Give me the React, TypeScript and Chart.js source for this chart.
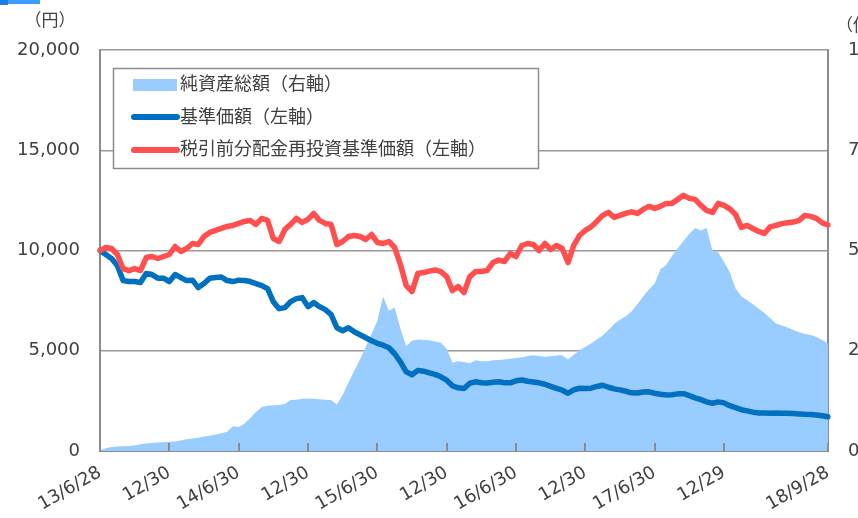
import React, { useEffect, useRef } from "react";
import { Chart, registerables } from "chart.js";
Chart.register(...registerables);

const categories = [
  "13/6/28", "13/7/12", "13/7/31", "13/8/15", "13/8/30", "13/9/13", "13/9/30", "13/10/15", "13/10/31", "13/11/15", "13/11/29", "13/12/13", "13/12/30",
  "14/1/15", "14/1/31", "14/2/14", "14/2/28", "14/3/14", "14/3/31", "14/4/15", "14/4/30", "14/5/15", "14/5/30", "14/6/13", "14/6/30",
  "14/7/15", "14/7/31", "14/8/15", "14/8/29", "14/9/12", "14/9/30", "14/10/15", "14/10/31", "14/11/14", "14/11/28", "14/12/15", "14/12/30",
  "15/1/15", "15/1/30", "15/2/13", "15/2/27", "15/3/13", "15/3/31", "15/4/15", "15/4/30", "15/5/15", "15/5/29", "15/6/15", "15/6/30",
  "15/7/15", "15/7/31", "15/8/14", "15/8/31", "15/9/15", "15/9/30", "15/10/15", "15/10/30", "15/11/13", "15/11/30", "15/12/15", "15/12/30",
  "16/1/15", "16/1/29", "16/2/15", "16/2/29", "16/3/15", "16/3/31", "16/4/15", "16/4/28", "16/5/13", "16/5/31", "16/6/15", "16/6/30",
  "16/7/15", "16/7/29", "16/8/15", "16/8/31", "16/9/15", "16/9/30", "16/10/14", "16/10/31", "16/11/15", "16/11/30", "16/12/15", "16/12/30",
  "17/1/13", "17/1/31", "17/2/15", "17/2/28", "17/3/15", "17/3/31", "17/4/14", "17/4/28", "17/5/15", "17/5/31", "17/6/15", "17/6/30",
  "17/7/14", "17/7/31", "17/8/15", "17/8/31", "17/9/15", "17/9/29", "17/10/13", "17/10/31", "17/11/15", "17/11/30", "17/12/15", "17/12/29",
  "18/1/15", "18/1/31", "18/2/15", "18/2/28", "18/3/15", "18/3/30", "18/4/13", "18/4/27", "18/5/15", "18/5/31", "18/6/15", "18/6/29",
  "18/7/13", "18/7/31", "18/8/15", "18/8/31", "18/9/14", "18/9/28",
];

const tickDates = ["13/6/28", "13/12/30", "14/6/30", "14/12/30", "15/6/30", "15/12/30", "16/6/30", "16/12/30", "17/6/30", "17/12/29", "18/9/28"];
const tickTexts = ["13/6/28", "12/30", "14/6/30", "12/30", "15/6/30", "12/30", "16/6/30", "12/30", "17/6/30", "12/29", "18/9/28"];

// 純資産総額（億円, 右軸）
const netAssets = [
  2, 7, 10, 11, 12, 12.5, 14, 17, 19, 20,
  21, 22, 23, 24, 26, 29, 31, 33, 36, 38,
  41, 44, 48, 62, 60, 68, 82, 97, 110, 113,
  114, 115, 117, 127, 128, 130, 131, 130, 129, 128,
  127, 116, 140, 170, 200, 228, 260, 292, 325, 385,
  350, 358, 305, 262, 275, 278, 277, 276, 273, 270,
  255, 220, 224, 222, 219, 226, 224, 224, 226, 227,
  228, 230, 232, 234, 237, 239, 237, 235, 236, 238,
  239, 228, 240, 251, 260, 268, 278, 288, 302, 317,
  327, 336, 348, 366, 385, 403, 418, 453, 464, 486,
  505, 524, 542, 556, 550, 556, 500, 495, 472, 446,
  405, 386, 376, 366, 355, 344, 331, 318, 313, 308,
  302, 296, 292, 289, 284, 277, 268,
];

// 基準価額（円, 左軸）
const navValues = [
  10000, 9800, 9600, 9250, 8500, 8450, 8450, 8400, 8850, 8800,
  8620, 8620, 8450, 8800, 8650, 8500, 8520, 8150, 8350, 8620,
  8650, 8680, 8500, 8450, 8520, 8500, 8450, 8350, 8250, 8100,
  7450, 7100, 7150, 7450, 7600, 7650, 7200, 7400, 7200, 7050,
  6800, 6150, 6000, 6150, 5950, 5800, 5650, 5500, 5370, 5280,
  5150, 4850, 4450, 3950, 3800, 4020, 3980, 3900, 3820, 3700,
  3530, 3250, 3150, 3120, 3380, 3450, 3400, 3390, 3430, 3450,
  3400, 3400, 3500, 3540, 3480, 3440, 3400, 3330, 3220, 3120,
  3030, 2880, 3050, 3130, 3120, 3130, 3220, 3280, 3180, 3100,
  3050, 2980, 2900, 2890, 2940, 2950, 2880, 2830, 2790, 2810,
  2850, 2860, 2760, 2650, 2560, 2450, 2380, 2450, 2400, 2260,
  2160, 2060, 2000, 1940, 1900, 1890, 1880, 1890, 1880, 1880,
  1870, 1850, 1830, 1820, 1800, 1760, 1710,
];

// 税引前分配金再投資基準価額（円, 左軸）
const reinvestedNav = [
  10000, 10150, 10100, 9800, 9100, 9000, 9100, 9000, 9650, 9700,
  9600, 9700, 9800, 10200, 9950, 10100, 10350, 10300, 10700, 10900,
  11000, 11100, 11200, 11250, 11350, 11450, 11500, 11300, 11600, 11500,
  10600, 10450, 11050, 11300, 11600, 11400, 11550, 11850, 11500, 11350,
  11300, 10300, 10450, 10700, 10750, 10700, 10550, 10800, 10400, 10350,
  10450, 10150, 9300, 8250, 7950, 8850, 8900, 8970, 9030, 8950,
  8700, 8000, 8200, 7900, 8700, 8950, 8950, 9000, 9400, 9520,
  9450, 9850, 9700, 10250, 10350, 10300, 10000, 10350, 10050, 10250,
  10100, 9400, 10250, 10750, 11000, 11180, 11450, 11750, 11900, 11650,
  11750, 11850, 11930, 11850, 12050, 12200, 12100, 12200, 12350, 12350,
  12550, 12750, 12600, 12550, 12250, 12000, 11900, 12350, 12250, 12080,
  11800, 11150, 11250, 11100, 10950, 10850, 11180, 11250, 11340, 11380,
  11420, 11500, 11750, 11700, 11600, 11380, 11270,
];

const seriesLabels = ["純資産総額（右軸）", "基準価額（左軸）", "税引前分配金再投資基準価額（左軸）"];
const leftUnit = "（円）";
const rightUnit = "（億円）";

const FONT = "'DejaVu Sans', 'Noto Sans CJK JP', sans-serif";
const CJK = "'Noto Sans CJK JP', sans-serif";
const TEXT = "#404040";
const GRID = "#999999";
const AREA = "#99CCFF";
const BLUE = "#0070C0";
const RED = "#FF4F4F";
const W = 920;
const H = 518;

const overlayPlugin = {
  id: "overlay",
  afterDatasetsDraw(chart: any) {
    const { ctx, chartArea, scales } = chart;
    const xs = scales.x;
    ctx.save();
    ctx.strokeStyle = "#8c8c8c";
    ctx.lineWidth = 2;
    xs.ticks.forEach((_t: any, i: number) => {
      const px = Math.round(xs.getPixelForTick(i));
      ctx.beginPath();
      ctx.moveTo(px, chartArea.bottom);
      ctx.lineTo(px, chartArea.bottom - 8);
      ctx.stroke();
    });
    ctx.restore();
  },
  afterDraw(chart: any) {
    const { ctx } = chart;
    ctx.save();
    // unit labels
    ctx.fillStyle = TEXT;
    ctx.font = `17px ${CJK}`;
    ctx.textBaseline = "middle";
    ctx.textAlign = "center";
    ctx.fillText(leftUnit, 50, 20);
    ctx.textAlign = "left";
    ctx.fillText(rightUnit, 836, 25);
    // top-left fragment
    ctx.fillStyle = "#3d9bff";
    ctx.fillRect(0, 0, 40, 4);
    ctx.fillStyle = "#1f7fe6";
    ctx.fillRect(0, 0, 8, 5);

    // legend
    const bx = 113.5, by = 68.5, bw = 425, bh = 100;
    ctx.fillStyle = "#ffffff";
    ctx.fillRect(bx, by, bw, bh);
    ctx.strokeStyle = "#8c8c8c";
    ctx.lineWidth = 1.5;
    ctx.strokeRect(bx, by, bw, bh);
    const ds = chart.data.datasets;
    const rows = [85, 118, 150];
    ctx.fillStyle = ds[0].backgroundColor;
    ctx.fillRect(133, 79, 44, 12);
    ctx.lineCap = "round";
    ctx.lineWidth = 6;
    ctx.strokeStyle = ds[1].borderColor;
    ctx.beginPath();
    ctx.moveTo(134, rows[1] - 1);
    ctx.lineTo(177, rows[1] - 1);
    ctx.stroke();
    ctx.strokeStyle = ds[2].borderColor;
    ctx.beginPath();
    ctx.moveTo(134, rows[2]);
    ctx.lineTo(177, rows[2]);
    ctx.stroke();
    ctx.fillStyle = TEXT;
    ctx.font = `18px ${FONT}`;
    ctx.textAlign = "left";
    ctx.textBaseline = "middle";
    ds.forEach((d: any, i: number) => ctx.fillText(d.label, 180, rows[i]));
    ctx.restore();
  },
};

export default function App() {
  const ref = useRef<HTMLCanvasElement | null>(null);
  useEffect(() => {
    if (!ref.current) return;
    const chart = new Chart(ref.current, {
      type: "line",
      data: {
        labels: categories,
        datasets: [
          {
            label: seriesLabels[0],
            data: netAssets,
            yAxisID: "y1",
            fill: "origin",
            backgroundColor: AREA,
            borderWidth: 0,
            borderColor: AREA,
            pointRadius: 0,
            order: 3,
          },
          {
            label: seriesLabels[1],
            data: navValues,
            yAxisID: "y",
            borderColor: BLUE,
            borderWidth: 5.5,
            pointRadius: 0,
            fill: false,
            borderCapStyle: "round",
            borderJoinStyle: "round",
            order: 2,
          },
          {
            label: seriesLabels[2],
            data: reinvestedNav,
            yAxisID: "y",
            borderColor: RED,
            borderWidth: 5.5,
            pointRadius: 0,
            fill: false,
            borderCapStyle: "round",
            borderJoinStyle: "round",
            order: 1,
          },
        ],
      },
      options: {
        responsive: false,
        animation: false,
        events: [],
        layout: { padding: { top: 50, left: 0, right: 0, bottom: 0 } },
        plugins: { legend: { display: false }, tooltip: { enabled: false }, title: { display: false } },
        scales: {
          x: {
            type: "category",
            offset: false,
            grid: { display: false, drawTicks: false },
            border: { display: true, color: "#8c8c8c", width: 2 },
            afterBuildTicks: (scale: any) => {
              scale.ticks = scale.ticks.filter((t: any) => tickDates.includes(categories[t.value]));
            },
            afterFit: (scale: any) => {
              scale.height = 67;
            },
            ticks: {
              autoSkip: false,
              maxRotation: 30,
              minRotation: 30,
              padding: 11,
              color: TEXT,
              font: { family: FONT, size: 18 },
              callback: (value: any) => {
                const k = tickDates.indexOf(categories[value as number]);
                return k >= 0 ? tickTexts[k] : "";
              },
            },
          },
          y: {
            position: "left",
            min: 0,
            max: 20000,
            grid: { color: GRID, lineWidth: 1.5, drawTicks: false },
            border: { display: true, color: "#8c8c8c", width: 2 },
            afterFit: (scale: any) => {
              scale.width = 100;
            },
            ticks: {
              stepSize: 5000,
              padding: 20,
              color: TEXT,
              font: { family: FONT, size: 18 },
              callback: (v: any) => Number(v).toLocaleString("en-US"),
            },
          },
          y1: {
            position: "right",
            min: 0,
            max: 1000,
            grid: { drawOnChartArea: false, drawTicks: false },
            border: { display: true, color: "#8c8c8c", width: 2 },
            afterFit: (scale: any) => {
              scale.width = W - 828;
            },
            ticks: {
              stepSize: 250,
              padding: 20,
              color: TEXT,
              font: { family: FONT, size: 18 },
              callback: (v: any) => Number(v).toLocaleString("en-US"),
            },
          },
        },
      },
      plugins: [overlayPlugin],
    } as any);
    return () => chart.destroy();
  }, []);

  return (
    <div style={{ position: "absolute", left: 0, top: 0, width: 858, height: 518, overflow: "hidden", background: "#fff" }}>
      <canvas ref={ref} width={W} height={H} style={{ display: "block", width: W, height: H }} />
    </div>
  );
}
